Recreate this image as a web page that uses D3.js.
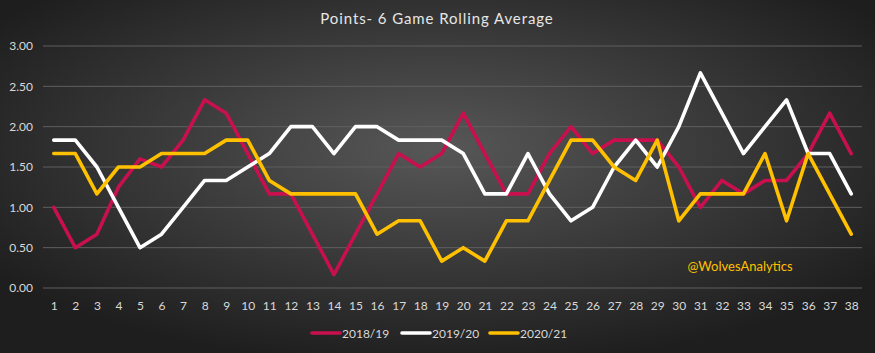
<!DOCTYPE html>
<html><head><meta charset="utf-8">
<script src="https://cdn.jsdelivr.net/npm/d3@7"></script>
<style>html,body{margin:0;padding:0;background:#2a2a2a;}svg{display:block;}</style>
</head><body>
<script>
const games = d3.range(1, 39);
const yTicks = [0, 0.5, 1, 1.5, 2, 2.5, 3];
const seriesNames = ["2018/19", "2019/20", "2020/21"];
const s1819 = [1.0,0.5,0.667,1.25,1.6,1.5,1.833,2.333,2.167,1.667,1.167,1.167,0.667,0.167,0.667,1.167,1.667,1.5,1.667,2.167,1.667,1.167,1.167,1.667,2.0,1.667,1.833,1.833,1.833,1.5,1.0,1.333,1.167,1.333,1.333,1.667,2.167,1.667];
const s1920 = [1.833,1.833,1.5,1.0,0.5,0.667,1.0,1.333,1.333,1.5,1.667,2.0,2.0,1.667,2.0,2.0,1.833,1.833,1.833,1.667,1.167,1.167,1.667,1.167,0.833,1.0,1.5,1.833,1.5,2.0,2.667,2.167,1.667,2.0,2.333,1.667,1.667,1.167];
const s2021 = [1.667,1.667,1.167,1.5,1.5,1.667,1.667,1.667,1.833,1.833,1.333,1.167,1.167,1.167,1.167,0.667,0.833,0.833,0.333,0.5,0.333,0.833,0.833,1.333,1.833,1.833,1.5,1.333,1.833,0.833,1.167,1.167,1.167,1.667,0.833,1.667,1.167,0.667];
const colors = ["#C8104E", "#FFFFFF", "#FFC000"];
const seriesData = [s1819, s1920, s2021];

const W = 875, H = 353;
const svg = d3.select("body").append("svg").attr("width", W).attr("height", H);
const defs = svg.append("defs");
const grad = defs.append("radialGradient").attr("id", "bg")
  .attr("cx", "50%").attr("cy", "42%").attr("r", "62%")
  .attr("gradientUnits", "objectBoundingBox");
grad.append("stop").attr("offset", "0%").attr("stop-color", "#575757");
grad.append("stop").attr("offset", "100%").attr("stop-color", "#1e1e1e");
svg.append("rect").attr("width", W).attr("height", H).attr("fill", "url(#bg)");

const font = "Lato, 'Open Sans', sans-serif";
const x = d3.scalePoint().domain(games).range([43, 862]).padding(0.5);
const y = d3.scaleLinear().domain([0, 3]).range([288, 46]);

// grid
svg.append("g").selectAll("line").data(yTicks).join("line")
  .attr("x1", 43).attr("x2", 862)
  .attr("y1", d => y(d)).attr("y2", d => y(d))
  .attr("stroke", "#5f5f5f").attr("stroke-width", 1);

// y axis
const yAxis = svg.append("g").attr("transform", "translate(36,0)")
  .call(d3.axisLeft(y).tickValues(yTicks).tickFormat(d3.format(".2f")).tickSize(0));
yAxis.select(".domain").remove();
yAxis.selectAll("text").attr("fill", "#d9d9d9").attr("font-size", "12px").attr("font-family", font).attr("dx", "0");

// x axis
const xAxis = svg.append("g").attr("transform", "translate(0,298)")
  .call(d3.axisBottom(x).tickSize(0));
xAxis.select(".domain").remove();
xAxis.selectAll("text").attr("fill", "#d9d9d9").attr("font-size", "12px").attr("font-family", font);

// lines
const line = d3.line().x((d, i) => x(games[i])).y(d => y(d));
seriesData.forEach((s, k) => {
  svg.append("path").datum(s).attr("d", line)
    .attr("fill", "none").attr("stroke", colors[k]).attr("stroke-width", 3.6)
    .attr("stroke-linejoin", "round").attr("stroke-linecap", "round");
});

// title
svg.append("text").attr("x", 437).attr("y", 24).attr("text-anchor", "middle")
  .attr("fill", "#e6e6e6").attr("font-size", "15px").attr("letter-spacing", "0.9px")
  .attr("font-family", font).text("Points- 6 Game Rolling Average");

// watermark
svg.append("text").attr("x", 740).attr("y", 271).attr("text-anchor", "middle")
  .attr("fill", "#FFC000").attr("font-size", "13px").attr("font-family", font)
  .text("@WolvesAnalytics");

// legend
const legX = [312, 402, 490];
const leg = svg.append("g");
seriesNames.forEach((n, k) => {
  leg.append("line").attr("x1", legX[k]).attr("x2", legX[k] + 28)
    .attr("y1", 333).attr("y2", 333).attr("stroke", colors[k]).attr("stroke-width", 3.6)
    .attr("stroke-linecap", "round");
  leg.append("text").attr("x", legX[k] + 30).attr("y", 337.5)
    .attr("fill", "#d9d9d9").attr("font-size", "12px").attr("font-family", font).text(n);
});
</script>
</body></html>
